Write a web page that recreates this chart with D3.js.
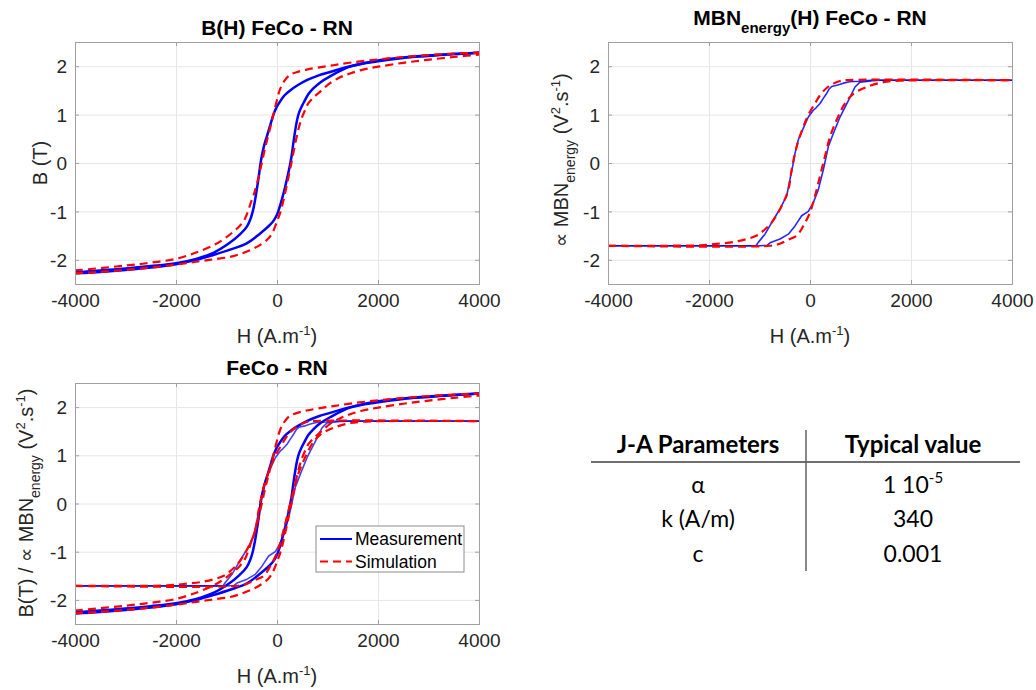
<!DOCTYPE html>
<html><head><meta charset="utf-8">
<script src="https://cdn.jsdelivr.net/npm/d3@7"></script>
<style>
body{margin:0;background:#fff;}
svg{display:block;font-family:"Liberation Sans",Arial,sans-serif;}
</style></head>
<body><svg id="c" width="1036" height="690"></svg>
<script>
// ---------------- DATA ----------------
const xTicks = [-4000, -2000, 0, 2000, 4000];
const yTicks = [-2, -1, 0, 1, 2];
const xDomain = [-4000, 4000];
const yDomain = [-2.5, 2.5];

// B(H) measurement, descending branch (upper-left), listed by increasing H
const bMeasDesc = [[-4000,-2.26],[-3500,-2.22],[-3000,-2.18],[-2500,-2.13],[-2000,-2.07],[-1600,-1.98],[-1250,-1.85],[-950,-1.66],[-750,-1.49],[-600,-1.32],[-530,-1.17],[-480,-1.0],[-440,-0.8],[-400,-0.55],[-360,-0.27],[-325,0.0],[-290,0.2],[-250,0.38],[-200,0.55],[-140,0.76],[-70,1.0],[0,1.17],[60,1.27],[150,1.40],[260,1.50],[400,1.60],[590,1.71],[800,1.80],[1050,1.88],[1450,2.0],[2000,2.12],[2500,2.18],[3000,2.22],[3500,2.25],[4000,2.28]];
// B(H) measurement, ascending branch (lower-right)
const bMeasAsc = [[-4000,-2.28],[-3500,-2.25],[-3000,-2.21],[-2500,-2.16],[-2000,-2.09],[-1600,-2.0],[-1260,-1.90],[-900,-1.78],[-600,-1.66],[-350,-1.47],[-140,-1.28],[-60,-1.18],[-6,-1.08],[40,-0.95],[100,-0.74],[160,-0.50],[215,-0.25],[255,-0.05],[290,0.15],[325,0.42],[362,0.68],[400,0.9],[440,1.05],[490,1.17],[540,1.27],[620,1.42],[719,1.54],[850,1.66],[1050,1.79],[1446,1.99],[2000,2.10],[2500,2.17],[3000,2.21],[3500,2.25],[4000,2.28]];
// B(H) simulation, descending branch
const bSimDesc = [[-4000,-2.22],[-3000,-2.12],[-2500,-2.06],[-2000,-1.98],[-1600,-1.85],[-1260,-1.70],[-1050,-1.57],[-865,-1.42],[-740,-1.30],[-634,-1.15],[-560,-0.95],[-502,-0.77],[-450,-0.62],[-403,-0.45],[-345,-0.2],[-290,0.05],[-238,0.3],[-190,0.5],[-139,0.71],[-100,0.88],[-60,1.05],[-6,1.28],[59,1.52],[150,1.70],[257,1.82],[400,1.88],[588,1.93],[800,1.97],[1116,2.02],[1500,2.08],[2000,2.14],[2500,2.19],[3000,2.23],[3500,2.26],[4000,2.28]];
// B(H) simulation, ascending branch
const bSimAsc = [[-4000,-2.28],[-3500,-2.25],[-3000,-2.21],[-2500,-2.16],[-2000,-2.10],[-1600,-2.04],[-1260,-1.99],[-931,-1.94],[-700,-1.87],[-469,-1.77],[-300,-1.67],[-172,-1.56],[-100,-1.46],[-40,-1.32],[10,-1.18],[59,-1.04],[110,-0.85],[158,-0.63],[210,-0.38],[257,-0.14],[300,0.08],[345,0.32],[395,0.57],[440,0.76],[488,0.92],[550,1.08],[620,1.23],[730,1.36],[851,1.47],[1050,1.65],[1250,1.77],[1446,1.85],[1700,1.93],[2007,1.99],[2500,2.07],[2964,2.13],[3500,2.19],[4000,2.24]];

// MBN energy measurement, descending branch
const mMeasDesc = [[-4000,-1.71],[-1070,-1.71],[-1024,-1.64],[-891,-1.47],[-759,-1.23],[-594,-0.95],[-462,-0.68],[-396,-0.34],[-343,-0.07],[-297,0.20],[-231,0.48],[-132,0.72],[-33,0.95],[65,1.09],[120,1.14],[198,1.23],[260,1.33],[325,1.43],[380,1.53],[430,1.58],[550,1.61],[660,1.65],[780,1.68],[990,1.69],[1200,1.71],[4000,1.71]];
// MBN energy measurement, ascending branch
const mMeasAsc = [[-4000,-1.71],[-1000,-1.71],[-850,-1.70],[-792,-1.65],[-594,-1.57],[-429,-1.47],[-297,-1.30],[-165,-1.09],[-33,-1.00],[65,-0.82],[165,-0.55],[264,-0.14],[363,0.34],[462,0.61],[594,0.95],[759,1.29],[891,1.57],[990,1.67],[1254,1.70],[1400,1.71],[4000,1.71]];
// MBN energy simulation, descending branch
const mSimDesc = [[-4000,-1.71],[-3000,-1.71],[-2178,-1.70],[-1848,-1.67],[-1452,-1.62],[-1056,-1.50],[-900,-1.38],[-759,-1.23],[-561,-0.89],[-429,-0.55],[-363,-0.14],[-264,0.34],[-132,0.75],[0,1.06],[100,1.23],[198,1.40],[330,1.55],[462,1.64],[580,1.69],[700,1.71],[4000,1.71]];
// MBN energy simulation, ascending branch
const mSimAsc = [[-4000,-1.71],[-800,-1.71],[-600,-1.67],[-462,-1.60],[-264,-1.50],[-132,-1.30],[0,-1.02],[99,-0.68],[198,-0.27],[297,0.14],[396,0.54],[528,0.89],[693,1.23],[858,1.43],[1122,1.57],[1452,1.67],[1782,1.70],[2200,1.71],[4000,1.71]];

const tableHeader = ["J-A Parameters", "Typical value"];
const tableParams = ["α", "k (A/m)", "c"];
const tableValues = ["1 10|-5", "340", "0.001"];
const legendLabels = ["Measurement", "Simulation"];

// ---------------- DRAW ----------------
const svg = d3.select("#c");
const BLUE = "#0000ff", RED = "#ff0000";
const tickColor = "#262626";
const fmt = d => String(d);

function panel(box) {
  const g = svg.append("g");
  const x = d3.scaleLinear().domain(xDomain).range([box.l, box.r]);
  const y = d3.scaleLinear().domain(yDomain).range([box.b, box.t]);
  const w = box.r - box.l, h = box.b - box.t;
  g.append("rect").attr("x", box.l).attr("y", box.t).attr("width", w).attr("height", h).attr("fill", "#fff");
  // grid
  g.append("g").attr("transform", `translate(0,${box.b})`)
    .call(d3.axisBottom(x).tickValues(xTicks).tickSize(-h).tickFormat(""))
    .call(s => { s.select(".domain").remove(); s.selectAll("line").attr("stroke", "#e6e6e6"); });
  g.append("g").attr("transform", `translate(${box.l},0)`)
    .call(d3.axisLeft(y).tickValues(yTicks).tickSize(-w).tickFormat(""))
    .call(s => { s.select(".domain").remove(); s.selectAll("line").attr("stroke", "#e6e6e6"); });
  const plot = g.append("g");
  // axes with labels
  const ax = g.append("g").attr("transform", `translate(0,${box.b})`)
    .call(d3.axisBottom(x).tickValues(xTicks).tickSize(-4).tickPadding(9).tickFormat(fmt));
  const ay = g.append("g").attr("transform", `translate(${box.l},0)`)
    .call(d3.axisLeft(y).tickValues(yTicks).tickSize(-4).tickPadding(8).tickFormat(fmt));
  g.append("g").attr("transform", `translate(0,${box.t})`)
    .call(d3.axisTop(x).tickValues(xTicks).tickSize(-4).tickFormat(""));
  g.append("g").attr("transform", `translate(${box.r},0)`)
    .call(d3.axisRight(y).tickValues(yTicks).tickSize(-4).tickFormat(""));
  g.selectAll(".domain").attr("stroke", "#a0a0a0");
  g.selectAll(".tick line").filter(function(){return !this.getAttribute("stroke") || this.getAttribute("stroke")==="currentColor";}).attr("stroke", "#a0a0a0");
  [ax, ay].forEach(a => a.selectAll("text").attr("font-size", 19).attr("fill", tickColor).attr("font-family", "Liberation Sans, Arial"));
  ax.selectAll("text").attr("dy", "0.72em");
  ay.selectAll("text").attr("dy", "0.35em");
  // x label
  const xl = g.append("text").attr("x", (box.l + box.r) / 2).attr("y", box.b + 59)
    .attr("text-anchor", "middle").attr("font-size", 20).attr("fill", tickColor);
  xl.append("tspan").text("H (A.m");
  xl.append("tspan").attr("font-size", 13).attr("dy", -8).text("-1");
  xl.append("tspan").attr("dy", 8).text(")");
  return {g, plot, x, y};
}

function drawLine(p, data, color, width, dashed, smooth, opacity) {
  const line = d3.line().x(d => p.x(d[0])).y(d => p.y(d[1]))
    .curve(smooth ? d3.curveCatmullRom.alpha(0.5) : d3.curveLinear);
  p.plot.append("path").datum(data).attr("d", line).attr("fill", "none")
    .attr("stroke", color).attr("stroke-width", width)
    .attr("stroke-dasharray", dashed ? "8,5" : null)
    .attr("stroke-opacity", opacity || 1)
    .attr("stroke-linejoin", "round");
}

// Panel 1: B(H)
const p1 = panel({l: 75, r: 479, t: 42, b: 284});
drawLine(p1, bMeasDesc, BLUE, 2.5, false, true);
drawLine(p1, bMeasAsc, BLUE, 2.5, false, true);
drawLine(p1, bSimDesc, RED, 2.2, true, true);
drawLine(p1, bSimAsc, RED, 2.2, true, true);
svg.append("text").attr("x", 277).attr("y", 35).attr("text-anchor", "middle")
  .attr("font-size", 21).attr("font-weight", "bold").text("B(H) FeCo - RN");
svg.append("text").attr("transform", "translate(47,163) rotate(-90)").attr("text-anchor", "middle")
  .attr("font-size", 20).attr("fill", tickColor).text("B (T)");

// Panel 2: MBN energy
const p2 = panel({l: 608, r: 1012, t: 42, b: 284});
drawLine(p2, mMeasDesc, BLUE, 1.6, false, false, 0.85);
drawLine(p2, mMeasAsc, BLUE, 1.6, false, false, 0.85);
drawLine(p2, mSimDesc, RED, 2.2, true, true);
drawLine(p2, mSimAsc, RED, 2.2, true, true);
{
  const t = svg.append("text").attr("x", 810).attr("y", 25).attr("text-anchor", "middle")
    .attr("font-size", 21).attr("font-weight", "bold");
  t.append("tspan").text("MBN");
  t.append("tspan").attr("font-size", 15).attr("dy", 8).text("energy");
  t.append("tspan").attr("dy", -8).text("(H) FeCo - RN");
  const yl = svg.append("text").attr("transform", "translate(568,160) rotate(-90)").attr("text-anchor", "middle")
    .attr("font-size", 20).attr("fill", tickColor);
  yl.append("tspan").text("∝ MBN");
  yl.append("tspan").attr("font-size", 14).attr("dy", 7).text("energy");
  yl.append("tspan").attr("dy", -7).text(" (V");
  yl.append("tspan").attr("font-size", 13).attr("dy", -8).text("2");
  yl.append("tspan").attr("dy", 8).text(".s");
  yl.append("tspan").attr("font-size", 13).attr("dy", -8).text("-1");
  yl.append("tspan").attr("dy", 8).text(")");
}

// Panel 3: combined
const p3 = panel({l: 75, r: 479, t: 383, b: 624});
drawLine(p3, bMeasDesc, BLUE, 2.5, false, true);
drawLine(p3, bMeasAsc, BLUE, 2.5, false, true);
drawLine(p3, mMeasDesc, BLUE, 1.6, false, false, 0.75);
drawLine(p3, mMeasAsc, BLUE, 1.6, false, false, 0.75);
drawLine(p3, bSimDesc, RED, 2.2, true, true);
drawLine(p3, bSimAsc, RED, 2.2, true, true);
drawLine(p3, mSimDesc, RED, 2.2, true, true);
drawLine(p3, mSimAsc, RED, 2.2, true, true);
svg.append("text").attr("x", 277).attr("y", 375).attr("text-anchor", "middle")
  .attr("font-size", 21).attr("font-weight", "bold").text("FeCo - RN");
{
  const yl = svg.append("text").attr("transform", "translate(33,503) rotate(-90)").attr("text-anchor", "middle")
    .attr("font-size", 20).attr("fill", tickColor);
  yl.append("tspan").text("B(T) / ∝ MBN");
  yl.append("tspan").attr("font-size", 14).attr("dy", 7).text("energy");
  yl.append("tspan").attr("dy", -7).text(" (V");
  yl.append("tspan").attr("font-size", 13).attr("dy", -8).text("2");
  yl.append("tspan").attr("dy", 8).text(".s");
  yl.append("tspan").attr("font-size", 13).attr("dy", -8).text("-1");
  yl.append("tspan").attr("dy", 8).text(")");
}
// legend
{
  const lg = svg.append("g");
  lg.append("rect").attr("x", 316).attr("y", 526).attr("width", 148).attr("height", 46)
    .attr("fill", "#fff").attr("stroke", "#8c8c8c").attr("stroke-width", 1);
  legendLabels.forEach((lab, i) => {
    const yy = 539 + i * 22.5;
    lg.append("line").attr("x1", 320).attr("x2", 352).attr("y1", yy).attr("y2", yy)
      .attr("stroke", i ? RED : BLUE).attr("stroke-width", i ? 2.2 : 2)
      .attr("stroke-dasharray", i ? "8,5" : null);
    lg.append("text").attr("x", 355).attr("y", yy).attr("dy", "0.35em")
      .attr("font-size", 17.5).attr("fill", "#000").text(lab);
  });
}

// Table
{
  const tg = svg.append("g").attr("font-family", "Lato, 'Open Sans', sans-serif").attr("fill", "#000");
  const cx = [698, 913];
  tableHeader.forEach((h, i) => tg.append("text").attr("x", cx[i]).attr("y", 453)
    .attr("text-anchor", "middle").attr("font-size", 24).attr("font-weight", "bold").text(h));
  tg.append("line").attr("x1", 591).attr("x2", 1020).attr("y1", 462).attr("y2", 462)
    .attr("stroke", "#404040").attr("stroke-width", 1.5);
  tg.append("line").attr("x1", 806).attr("x2", 806).attr("y1", 430).attr("y2", 571)
    .attr("stroke", "#606060").attr("stroke-width", 1.5);
  const rowY = [493, 527, 562];
  tableParams.forEach((p, i) => tg.append("text").attr("x", cx[0]).attr("y", rowY[i])
    .attr("text-anchor", "middle").attr("font-size", 23).text(p));
  tableValues.forEach((v, i) => {
    const t = tg.append("text").attr("x", cx[1]).attr("y", rowY[i]).attr("text-anchor", "middle").attr("font-size", 23);
    const parts = v.split("|");
    t.append("tspan").text(parts[0]);
    if (parts[1]) t.append("tspan").attr("font-size", 15).attr("dy", -10).text(parts[1]);
  });
}
</script></body></html>
